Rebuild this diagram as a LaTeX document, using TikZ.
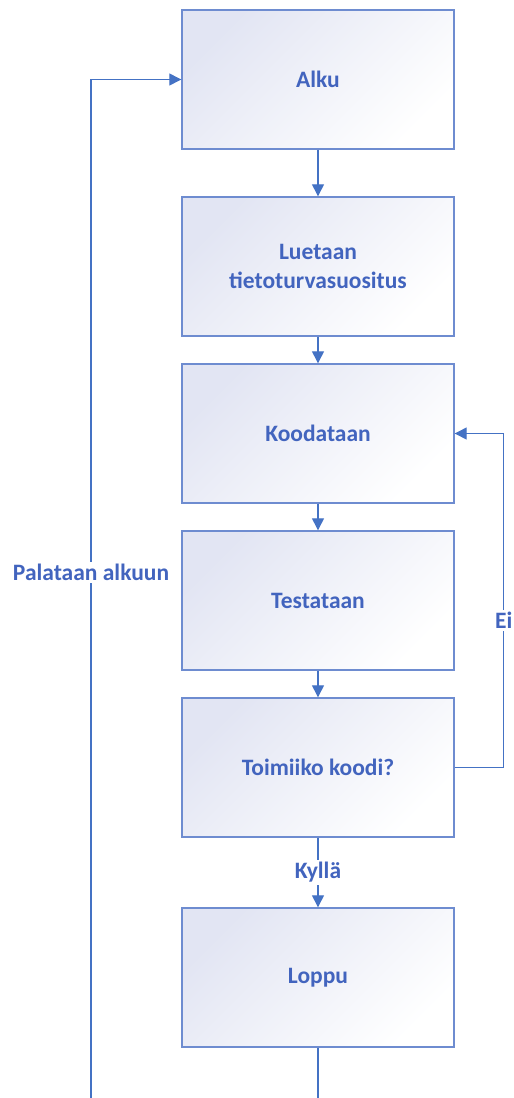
\documentclass[tikz,border=0pt]{standalone}
\usepackage{fontspec}
\setmainfont{Carlito}
\usepackage{xcolor}
\usetikzlibrary{arrows.meta}
\definecolor{flowblue}{RGB}{68,114,196}
\definecolor{textblue}{RGB}{66,100,190}
\definecolor{boxline}{RGB}{110,140,208}
\definecolor{boxshade}{RGB}{226,229,243}
\tikzstyle{step box} = [rectangle, draw=boxline, line width=1.4pt, minimum width=272pt, minimum height=139pt, inner sep=0pt, align=center, top color=boxshade, bottom color=white, shading angle=45]
\tikzstyle{flow} = [line width=1.3pt, draw=flowblue, ->, >={Triangle[length=12pt,width=12pt]}]
\tikzstyle{label} = [fill=white, inner sep=2pt]
\tikzset{every node/.style={text=textblue, font=\bfseries\fontsize{23.5}{29}\selectfont}}

\begin{document}
\begin{tikzpicture}[node distance=167pt]
    \useasboundingbox (0,0) rectangle (514pt,-1098pt);

    \node (v1) [step box] at (318pt,-79.5pt) {Alku};
    \node (v2) [step box,below of=v1,yshift=-20pt] {Luetaan\\tietoturvasuositus};
    \node (v3) [step box,below of=v2] {Koodataan};
    \node (v4) [step box,below of=v3] {Testataan};
    \node (v5) [step box,below of=v4] {Toimiiko koodi?};
    \node (v6) [step box,below of=v5,yshift=-43pt] {Loppu};

    \coordinate (e1) at (318pt,-1098pt);
    \coordinate (e2) at (91pt,-1098pt);

    \draw [flow] (v1) -- (v2);
    \draw [flow] (v2) -- (v3);
    \draw [flow] (v3) -- (v4);
    \draw [flow] (v4) -- (v5);
    \draw [flow] (v5) -- node [label,midway] {Kyllä} (v6);
    \draw [flow] (v5.east) -- ++(49pt,0) |- node [label,pos=0.22] {Ei} (v3.east);

    \draw [flow,-] (v6) -- (e1);
    \draw [flow] (e2) |- node [label,pos=0.258] {Palataan alkuun} (v1.west);

  \end{tikzpicture}
\end{document}
